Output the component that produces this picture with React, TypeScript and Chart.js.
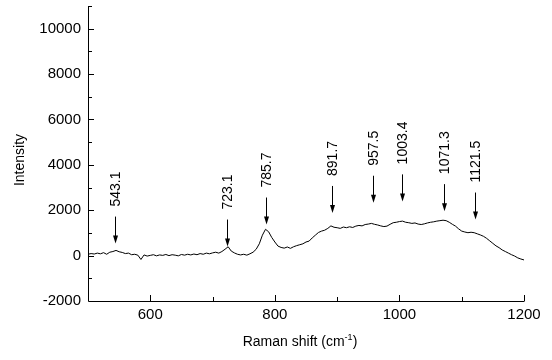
import React, { useEffect, useRef } from "react";
import { Chart, registerables } from "chart.js";

Chart.register(...registerables);

// Raman shift (cm^-1) sampling positions
const ramanShift = [
  500, 505, 510, 515, 520, 525, 530, 535, 540, 545, 550, 555, 560, 565, 570, 575, 580, 585, 590, 595,
  600, 605, 610, 615, 620, 625, 630, 635, 640, 645, 650, 655, 660, 665, 670, 675, 680, 685, 690, 695,
  700, 705, 710, 715, 720, 725, 730, 735, 740, 745, 750, 755, 760, 765, 770, 775, 780, 785, 790, 795,
  800, 805, 810, 815, 820, 825, 830, 835, 840, 845, 850, 855, 860, 865, 870, 875, 880, 885, 890, 895,
  900, 905, 910, 915, 920, 925, 930, 935, 940, 945, 950, 955, 960, 965, 970, 975, 980, 985, 990, 995,
  1000, 1005, 1010, 1015, 1020, 1025, 1030, 1035, 1040, 1045, 1050, 1055, 1060, 1065, 1070, 1075, 1080, 1085, 1090, 1095,
  1100, 1105, 1110, 1115, 1120, 1125, 1130, 1135, 1140, 1145, 1150, 1155, 1160, 1165, 1170, 1175, 1180, 1185, 1190, 1195,
  1200,
];

// Intensity
const intensity = [
  60, 90, 70, 110, 80, 130, 60, 150, 180, 230, 170, 140, 90, 110, 40, 60, 20, -170, 30, -20,
  10, 40, -10, 30, 10, 50, 0, 40, 20, -10, 50, 20, 60, 30, 70, 40, 90, 60, 110, 80,
  120, 150, 110, 180, 280, 390, 200, 120, 60, 30, 60, 20, 80, 150, 280, 520, 900, 1160, 1050, 800,
  600, 420, 360, 330, 380, 320, 390, 440, 480, 520, 600, 640, 780, 900, 1020, 1080, 1120, 1200, 1310, 1250,
  1230, 1200, 1260, 1230, 1270, 1240, 1300, 1330, 1310, 1370, 1390, 1420, 1380, 1350, 1310, 1280, 1300, 1380, 1450, 1470,
  1500, 1520, 1470, 1450, 1420, 1440, 1390, 1370, 1400, 1440, 1470, 1490, 1520, 1540, 1560, 1540, 1470, 1380, 1300, 1180,
  1080, 1040, 1010, 1030, 1010, 960, 910, 850, 760, 650, 540, 430, 350, 250, 180, 110, 40, -20, -100, -150,
  -190,
];

// Peak annotations
const peakPositions = [543.1, 723.1, 785.7, 891.7, 957.5, 1003.4, 1071.3, 1121.5];
const peakLabels = ["543.1", "723.1", "785.7", "891.7", "957.5", "1003.4", "1071.3", "1121.5"];
const arrowTipIntensity = [530, 400, 1370, 1880, 2330, 2390, 1960, 1590];

// Axis ticks
const xTickValues = [600, 800, 1000, 1200];
const xMinorTickValues = [700, 900, 1100];
const yTickValues = [-2000, 0, 2000, 4000, 6000, 8000, 10000];
const yMinorTickValues = [-1000, 1000, 3000, 5000, 7000, 9000, 11000];

const xMin = 500;
const xMax = 1200;
const yMin = -2000;
const yMax = 11000;

const FONT = "'Liberation Sans', Arial, sans-serif";

const decorPlugin = {
  id: "decor",
  afterDraw(chart: any) {
    const { ctx, chartArea, scales } = chart;
    const { left, right, top, bottom } = chartArea;
    const xs = scales.x;
    const ys = scales.y;
    ctx.save();
    ctx.strokeStyle = "#000";
    ctx.fillStyle = "#000";
    ctx.lineWidth = 1;

    // axes (left and bottom only)
    ctx.beginPath();
    ctx.moveTo(left + 0.5, top);
    ctx.lineTo(left + 0.5, bottom + 0.5);
    ctx.lineTo(right + 0.5, bottom + 0.5);
    ctx.stroke();

    const majorLen = 6;
    const minorLen = 4;

    ctx.beginPath();
    const xTick = (v: number, len: number) => {
      const px = Math.round(xs.getPixelForValue(v)) + 0.5;
      ctx.moveTo(px, bottom);
      ctx.lineTo(px, bottom - len);
    };
    const yTick = (v: number, len: number) => {
      const py = Math.round(ys.getPixelForValue(v)) + 0.5;
      if (py >= bottom - 1) return;
      ctx.moveTo(left, py);
      ctx.lineTo(left + len, py);
    };
    xTickValues.forEach((v) => xTick(v, majorLen));
    xMinorTickValues.forEach((v) => xTick(v, minorLen));
    yTickValues.forEach((v) => yTick(v, majorLen));
    yMinorTickValues.forEach((v) => yTick(v, minorLen));
    ctx.stroke();

    // peak annotations
    const arrowLen = 27;
    const gap = 10;
    ctx.font = `14px ${FONT}`;
    peakPositions.forEach((p, i) => {
      const px = Math.round(xs.getPixelForValue(p)) + 0.5;
      const tip = ys.getPixelForValue(arrowTipIntensity[i]);
      const start = tip - arrowLen;
      ctx.beginPath();
      ctx.moveTo(px, start);
      ctx.lineTo(px, tip - 6);
      ctx.stroke();
      ctx.beginPath();
      ctx.moveTo(px - 2.5, tip - 8);
      ctx.lineTo(px + 2.5, tip - 8);
      ctx.lineTo(px, tip);
      ctx.closePath();
      ctx.fill();
      ctx.save();
      ctx.translate(px + 1, start - gap);
      ctx.rotate(-Math.PI / 2);
      ctx.textAlign = "left";
      ctx.textBaseline = "middle";
      ctx.fillText(peakLabels[i], 0, 0);
      ctx.restore();
    });

    // y axis title
    ctx.save();
    ctx.font = `14px ${FONT}`;
    ctx.translate(20, 160);
    ctx.rotate(-Math.PI / 2);
    ctx.textAlign = "center";
    ctx.textBaseline = "middle";
    ctx.fillText("Intensity", 0, 0);
    ctx.restore();

    // x axis title with superscript
    const main = "Raman shift (cm";
    const sup = "-1";
    const close = ")";
    ctx.font = `14px ${FONT}`;
    const w1 = ctx.measureText(main).width;
    const w3 = ctx.measureText(close).width;
    ctx.font = `9px ${FONT}`;
    const w2 = ctx.measureText(sup).width;
    const total = w1 + w2 + w3;
    const cx = 300;
    const baseY = 346;
    let x0 = cx - total / 2;
    ctx.textAlign = "left";
    ctx.textBaseline = "alphabetic";
    ctx.font = `14px ${FONT}`;
    ctx.fillText(main, x0, baseY);
    x0 += w1;
    ctx.font = `9px ${FONT}`;
    ctx.fillText(sup, x0, baseY - 6);
    x0 += w2;
    ctx.font = `14px ${FONT}`;
    ctx.fillText(close, x0, baseY);

    ctx.restore();
  },
};

export default function App() {
  const canvasRef = useRef<HTMLCanvasElement | null>(null);

  useEffect(() => {
    const canvas = canvasRef.current;
    if (!canvas) return;
    const points = ramanShift.map((x, i) => ({ x, y: intensity[i] }));
    const chart = new Chart(canvas, {
      type: "line",
      data: {
        datasets: [
          {
            data: points,
            borderColor: "#000",
            borderWidth: 1,
            pointRadius: 0,
            tension: 0,
            fill: false,
          },
        ],
      },
      options: {
        animation: false,
        responsive: false,
        devicePixelRatio: 1,
        layout: { padding: { top: 6, right: 28, bottom: 0, left: 0 } },
        plugins: {
          legend: { display: false },
          tooltip: { enabled: false },
          title: { display: false },
        },
        scales: {
          x: {
            type: "linear",
            min: xMin,
            max: xMax,
            grid: { display: false, drawTicks: false },
            border: { display: false },
            ticks: {
              padding: 5,
              color: "#000",
              font: { family: FONT, size: 15 },
              maxRotation: 0,
              autoSkip: false,
              callback: (v: any) => String(v),
            },
            afterBuildTicks(scale: any) {
              scale.ticks = xTickValues.map((value) => ({ value }));
            },
            afterFit(scale: any) {
              scale.height = 59;
              scale.paddingLeft = 0;
              scale.paddingRight = 0;
            },
          },
          y: {
            type: "linear",
            min: yMin,
            max: yMax,
            grid: { display: false, drawTicks: false },
            border: { display: false },
            ticks: {
              padding: 7,
              color: "#000",
              font: { family: FONT, size: 15 },
              autoSkip: false,
              callback: (v: any) => String(v),
            },
            afterBuildTicks(scale: any) {
              scale.ticks = yTickValues.map((value) => ({ value }));
            },
            afterFit(scale: any) {
              scale.width = 88;
              scale.paddingTop = 0;
              scale.paddingBottom = 0;
            },
          },
        },
      },
      plugins: [decorPlugin],
    });
    return () => chart.destroy();
  }, []);

  return (
    <div style={{ position: "fixed", left: 0, top: 0, width: 552, height: 360, background: "#fff" }}>
      <canvas ref={canvasRef} width={552} height={360} style={{ display: "block" }} />
    </div>
  );
}
